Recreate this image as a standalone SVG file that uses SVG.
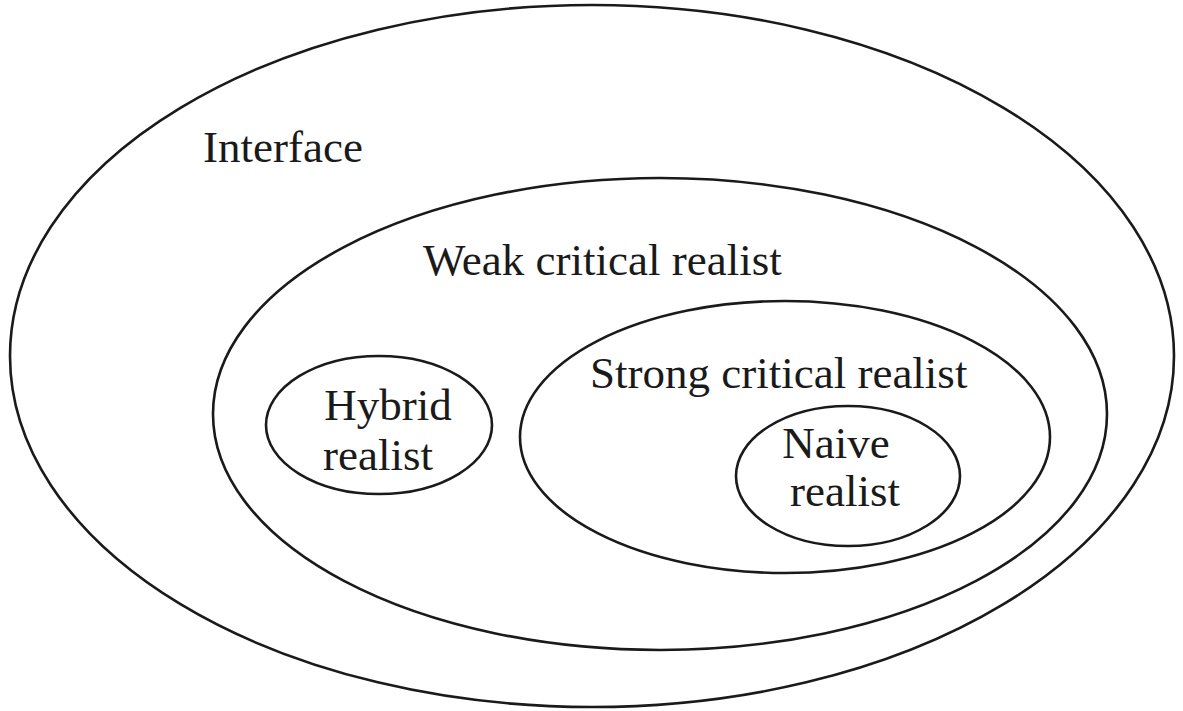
<svg xmlns="http://www.w3.org/2000/svg" width="1183" height="711" viewBox="0 0 1183 711">
<style>
.e{fill:none;stroke:#1a1a1a;stroke-width:2.6}
.t{font-family:"Liberation Serif","DejaVu Serif",serif;font-size:45px;fill:#1a1a1a}
</style>
<rect width="1183" height="711" fill="#fff"/>
<g id="interface"><ellipse class="e" cx="592" cy="356" rx="582" ry="351"/><text class="t" x="203" y="162">Interface</text></g>
<g id="weak"><ellipse class="e" cx="660" cy="414" rx="447" ry="236"/><text class="t" x="423" y="275">Weak critical realist</text></g>
<g id="hybrid"><ellipse class="e" cx="379" cy="425" rx="113" ry="69"/><text class="t" x="388" y="420" text-anchor="middle">Hybrid</text><text class="t" x="378" y="470" text-anchor="middle">realist</text></g>
<g id="strong"><ellipse class="e" cx="785" cy="437" rx="265" ry="136"/><text class="t" x="590" y="388">Strong critical realist</text></g>
<g id="naive"><ellipse class="e" cx="848" cy="476" rx="112" ry="70"/><text class="t" x="836" y="458" text-anchor="middle">Naive</text><text class="t" x="845" y="506" text-anchor="middle">realist</text></g>
<g id="connectors"/>
</svg>
